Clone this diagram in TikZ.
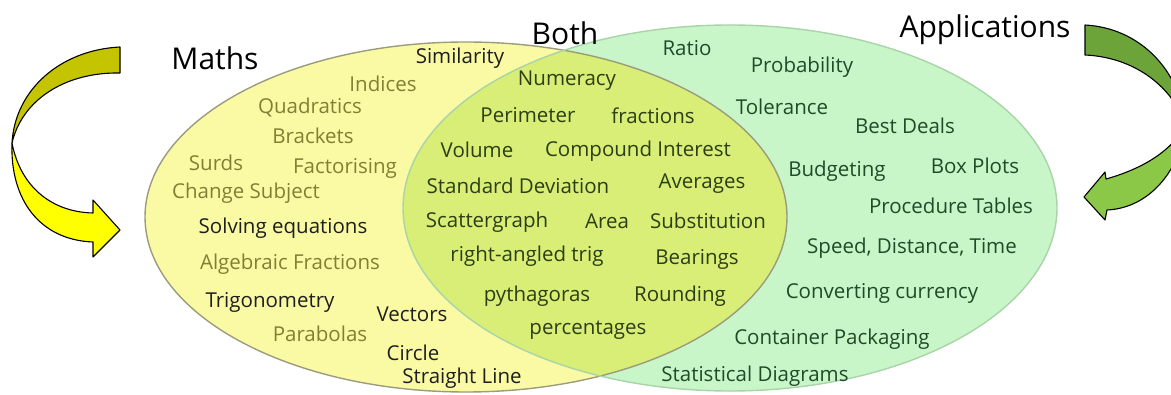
\documentclass[tikz,border=0pt]{standalone}
\usepackage{fontspec}
\setmainfont{Open Sans}

\definecolor{mathsfill}{RGB}{250,250,165}
\definecolor{appsfill}{RGB}{200,246,200}
\definecolor{bothfill}{RGB}{216,238,118}
\definecolor{mathsline}{RGB}{155,155,125}
\definecolor{appsline}{RGB}{168,212,168}
\definecolor{mathsolive}{RGB}{128,128,52}
\definecolor{inkblack}{RGB}{30,30,30}
\definecolor{bothink}{RGB}{45,62,22}
\definecolor{appsink}{RGB}{34,74,40}
\definecolor{arrowolive}{RGB}{196,196,0}
\definecolor{arrowyellow}{RGB}{255,255,0}
\definecolor{arrowdkgreen}{RGB}{108,164,58}
\definecolor{arrowltgreen}{RGB}{140,200,72}

\begin{document}
\begin{tikzpicture}[
    x=1pt, y=-1pt,
    title/.style={font=\fontsize{30}{36}\selectfont, text=black, inner sep=0pt},
    item/.style={font=\fontsize{20.5}{24}\selectfont, inner sep=0pt},
    mathsitem/.style={item, text=mathsolive},
    mathskey/.style={item, text=inkblack},
    bothitem/.style={item, text=bothink},
    appsitem/.style={item, text=appsink},
    ribbon/.style={draw=black, line width=1.1pt, line join=round},
]
    \clip (0,0) rectangle (1171,395);

    % Venn circles
    \fill[mathsfill] (466,217) ellipse [x radius=321, y radius=175];
    \fill[appsfill] (730,208) ellipse [x radius=327, y radius=183];
    \begin{scope}
        \clip (466,217) ellipse [x radius=321, y radius=175];
        \fill[bothfill] (730,208) ellipse [x radius=327, y radius=183];
    \end{scope}
    \draw[mathsline, line width=1.4pt] (466,217) ellipse [x radius=321, y radius=175];
    \draw[appsline, line width=1.4pt] (730,208) ellipse [x radius=327, y radius=183];

    % Curved arrows
    \fill[arrowolive, ribbon] (120,47) .. controls (60,50) and (15,90) .. (12,143)
        .. controls (22,100) and (65,72) .. (120,73) -- cycle;
    \fill[arrowyellow, ribbon] (12,143) .. controls (20,185) and (50,212) .. (93,213)
        -- (93,200) -- (120,230) -- (93,257) -- (93,242)
        .. controls (40,240) and (10,200) .. (12,143) -- cycle;
    \fill[arrowdkgreen, ribbon] (1085,25) .. controls (1140,28) and (1180,70) .. (1186,125)
        .. controls (1170,82) and (1130,57) .. (1085,55) -- cycle;
    \fill[arrowltgreen, ribbon] (1186,125) .. controls (1180,170) and (1150,208) .. (1107,210)
        -- (1105,220) -- (1084,197) -- (1105,172) -- (1106,179)
        .. controls (1145,168) and (1172,150) .. (1186,125) -- cycle;

    % Titles
    \node[title] (maths) at (215,58) {Maths};
    \node[title] (both) at (565,33) {Both};
    \node[title] (apps) at (985,30) {Applications};

    % Maths only
    \node[mathskey] (similarity) at (460,58) {Similarity};
    \node[mathsitem] (indices) at (383,84) {Indices};
    \node[mathsitem] (quadratics) at (310,107) {Quadratics};
    \node[mathsitem] (brackets) at (313,136) {Brackets};
    \node[mathsitem] (surds) at (216,163) {Surds};
    \node[mathsitem] (factorising) at (345,168) {Factorising};
    \node[mathsitem] (subject) at (246,193) {Change Subject};
    \node[mathskey] (equations) at (283,228) {Solving equations};
    \node[mathsitem] (algfrac) at (290,264) {Algebraic Fractions};
    \node[mathskey] (trig) at (270,302) {Trigonometry};
    \node[mathsitem] (parabolas) at (320,334) {Parabolas};
    \node[mathskey] (vectors) at (412,314) {Vectors};
    \node[mathskey] (circle) at (413,353) {Circle};
    \node[mathskey] (line) at (462,378) {Straight Line};

    % Both
    \node[bothitem] (numeracy) at (567,81) {Numeracy};
    \node[bothitem] (perimeter) at (528,115) {Perimeter};
    \node[bothitem] (fractions) at (653,116) {fractions};
    \node[bothitem] (volume) at (477,150) {Volume};
    \node[bothitem] (compound) at (638,151) {Compound Interest};
    \node[bothitem] (stdev) at (518,186) {Standard Deviation};
    \node[bothitem] (averages) at (702,184) {Averages};
    \node[bothitem] (scatter) at (487,222) {Scattergraph};
    \node[bothitem] (area) at (607,221) {Area};
    \node[bothitem] (substitution) at (708,221) {Substitution};
    \node[bothitem] (ratrig) at (527,256) {right-angled trig};
    \node[bothitem] (bearings) at (697,259) {Bearings};
    \node[bothitem] (pythagoras) at (537,296) {pythagoras};
    \node[bothitem] (rounding) at (680,296) {Rounding};
    \node[bothitem] (percentages) at (588,330) {percentages};

    % Applications only
    \node[appsitem] (ratio) at (687,48) {Ratio};
    \node[appsitem] (probability) at (802,67) {Probability};
    \node[appsitem] (tolerance) at (782,107) {Tolerance};
    \node[appsitem] (deals) at (905,126) {Best Deals};
    \node[appsitem] (budgeting) at (837,171) {Budgeting};
    \node[appsitem] (boxplots) at (975,166) {Box Plots};
    \node[appsitem] (procedure) at (951,206) {Procedure Tables};
    \node[appsitem] (sdt) at (912,248) {Speed, Distance, Time};
    \node[appsitem] (currency) at (882,293) {Converting currency};
    \node[appsitem] (packaging) at (832,339) {Container Packaging};
    \node[appsitem] (statdiag) at (755,376) {Statistical Diagrams};
\end{tikzpicture}
\end{document}
